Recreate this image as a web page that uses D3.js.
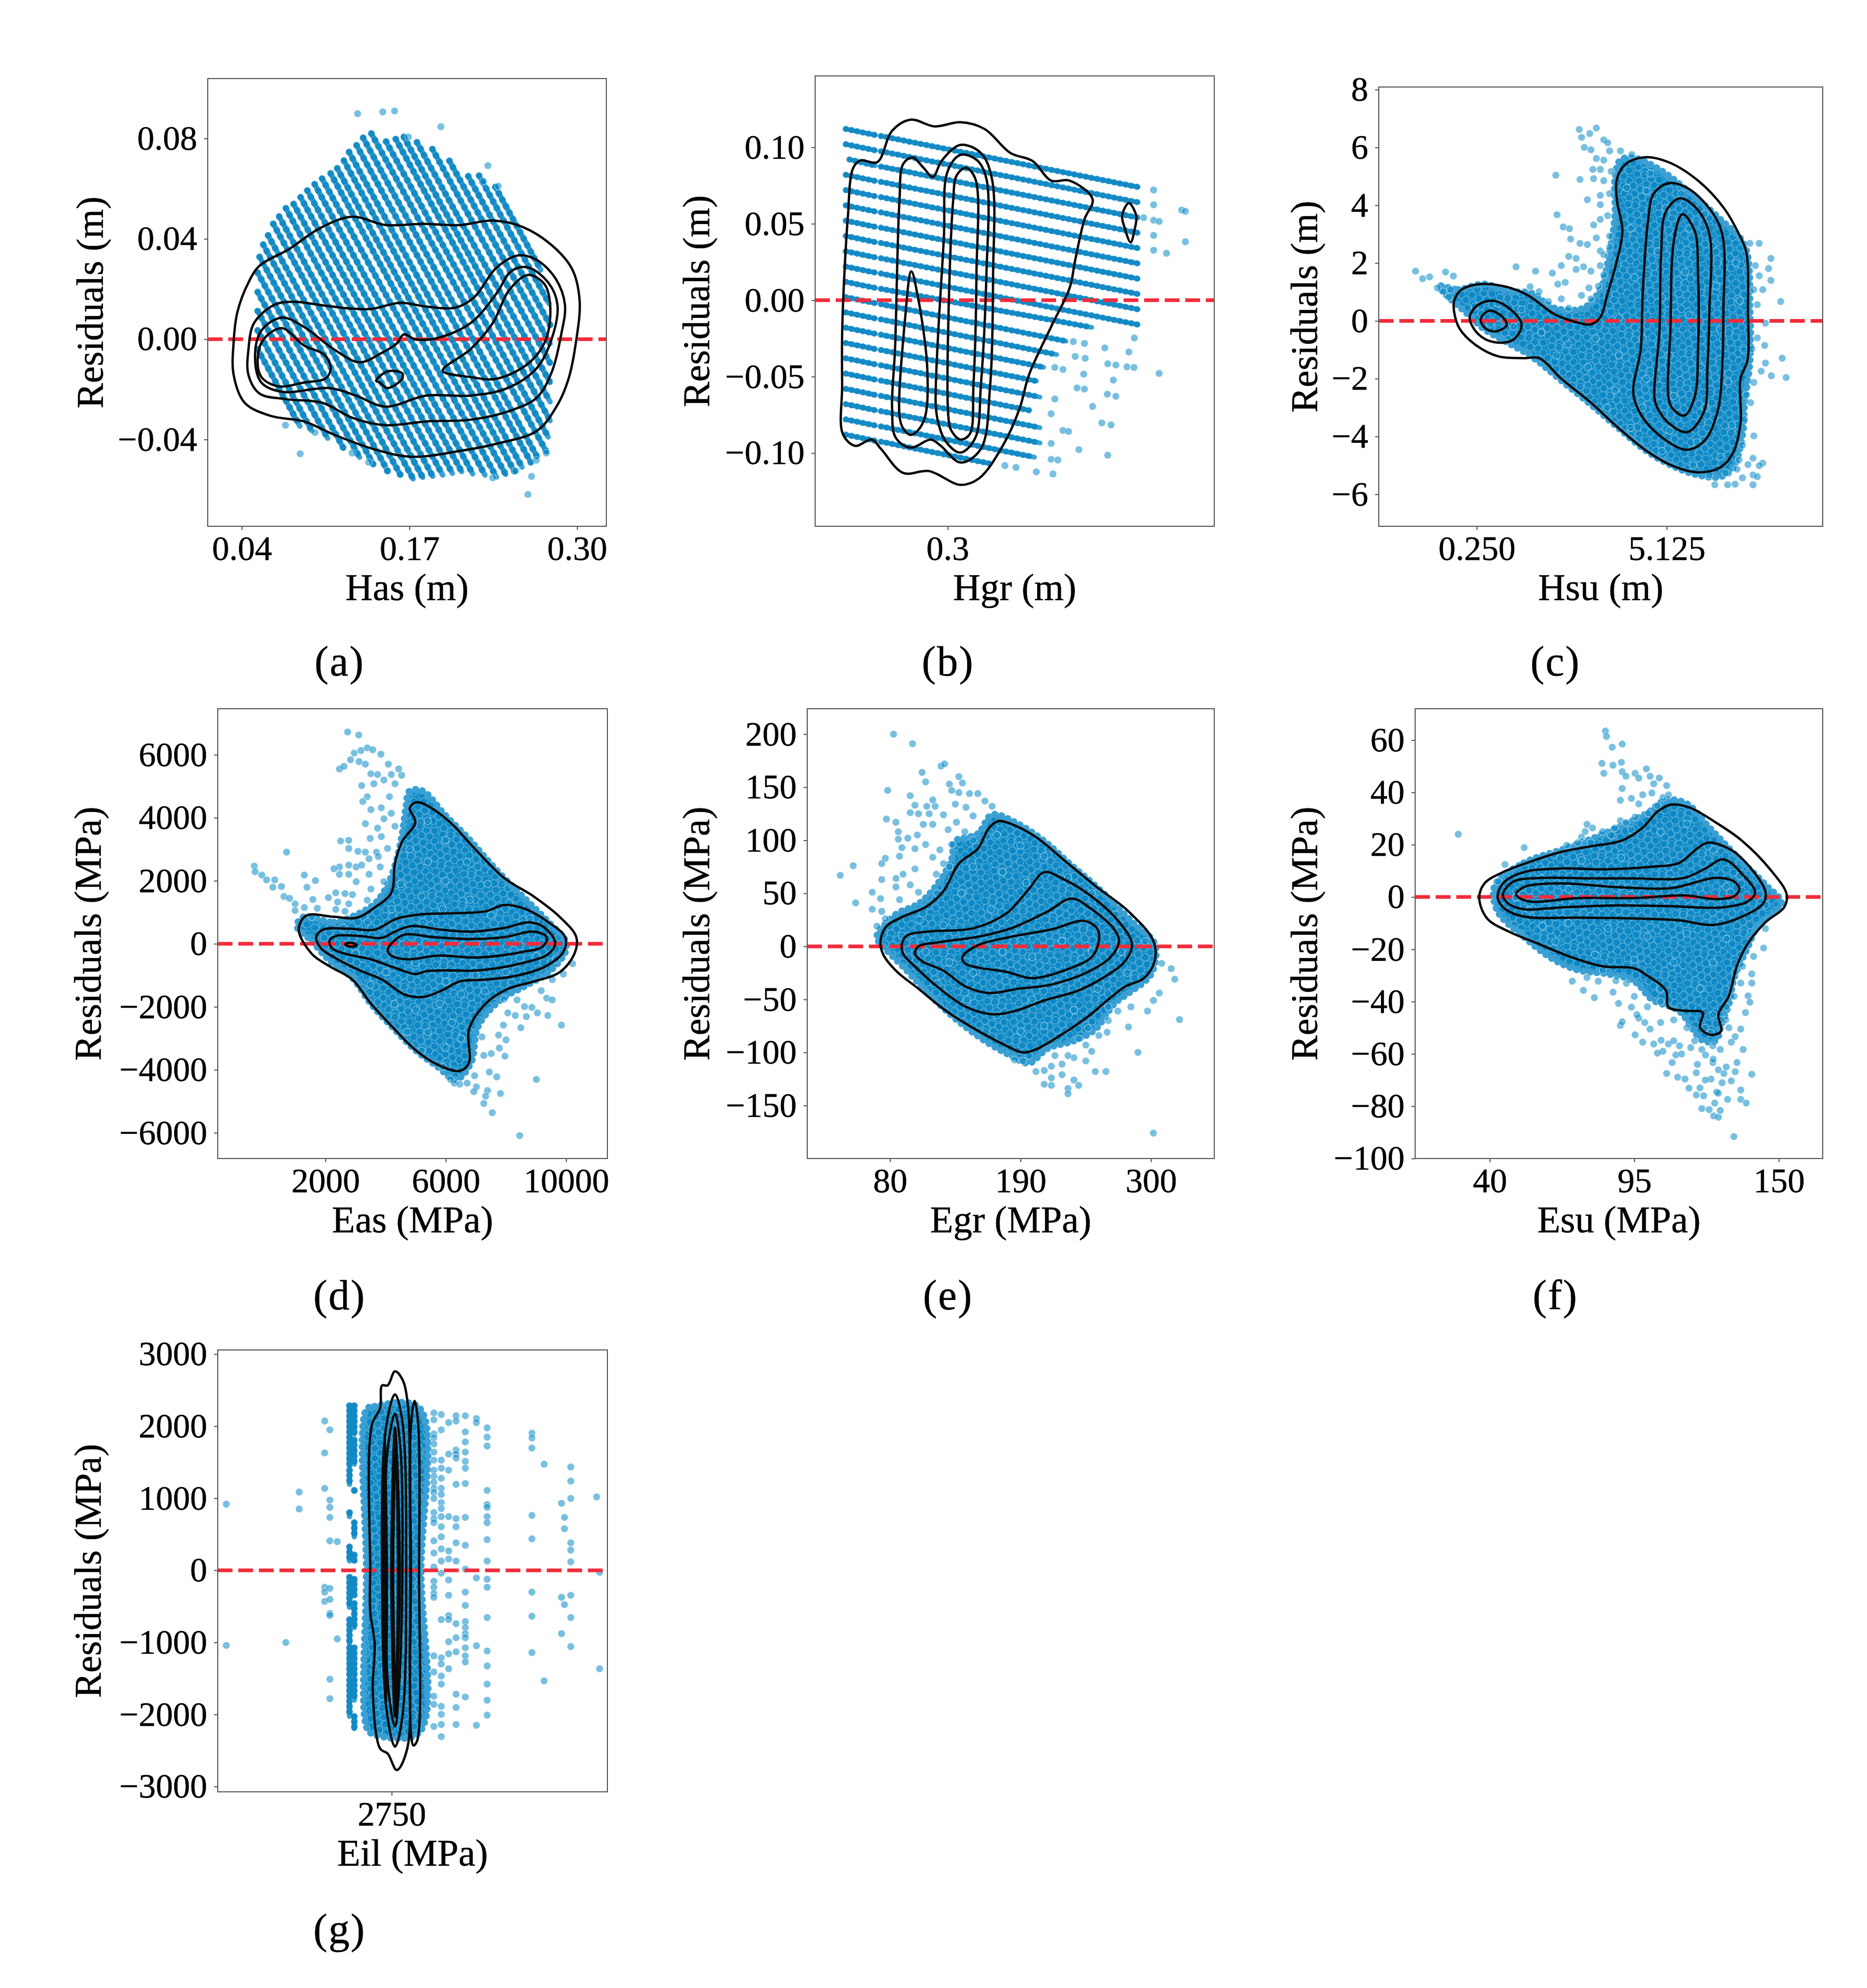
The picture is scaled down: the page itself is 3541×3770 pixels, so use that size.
<!DOCTYPE html>
<html>
<head>
<meta charset="utf-8">
<script src="https://cdn.jsdelivr.net/npm/d3@7"></script>
<style>
  html, body { margin: 0; background: #fff; }
  text { font-family: "Liberation Serif", serif; fill: #000; stroke: #000; stroke-width: 0.5px; }
</style>
</head>
<body>
<div id="chart"></div>
<script>
// (a) Has: lattice stripes [x0,y0,x1,y1], stray points, density contours
const hasStripes = [
  [.0523,-.0040,.0851,-.0347],[.0523,.0035,.0942,-.0365],[.0523,.0112,.1066,-.0395],[.0523,.0188,.1189,-.0435],
  [.0523,.0265,.1313,-.0471],[.0538,.0328,.1419,-.0498],[.0566,.0377,.1534,-.0528],[.0604,.0414,.1631,-.0542],
  [.0644,.0460,.1729,-.0557],[.0690,.0489,.1803,-.0551],[.0742,.0522,.1881,-.0547],[.0802,.0539,.1958,-.0542],
  [.0856,.0566,.2033,-.0535],[.0908,.0593,.2105,-.0528],[.0965,.0618,.2191,-.0537],[.1023,.0640,.2286,-.0542],
  [.1089,.0661,.2375,-.0550],[.1140,.0681,.2446,-.0539],[.1192,.0712,.2515,-.0528],[.1232,.0746,.2573,-.0510],
  [.1290,.0773,.2641,-.0491],[.1341,.0803,.2690,-.0469],[.1405,.0820,.2762,-.0449],[.1519,.0788,.2776,-.0390],
  [.1594,.0798,.2791,-.0325],[.1657,.0806,.2791,-.0250],[.1758,.0785,.2791,-.0173],[.1878,.0758,.2791,-.0096],
  [.2010,.0711,.2791,-.0019],[.2156,.0650,.2791,.0056],[.2240,.0652,.2782,.0142],[.2366,.0607,.2719,.0276]
]
const hasPoints = [
  [.1298,.0899],[.1493,.0906],[.1585,.0910],[.1944,.0847],[.1692,.0806],[.2309,.0692],[.2274,.0630],[.2389,.0610],
  [.0853,-.0457],[.1255,-.0454],[.1384,-.0491],[.1528,-.0525],[.2346,-.0553],[.2524,-.0525],[.2647,-.0547],
  [.2619,-.0619],[.2684,-.0483],[.2762,-.0454],[.0968,-.0372],[.0739,-.0343]
]
const hasContours = [
  [[.0337,-.0010],[.0366,.0108],[.0452,.0226],[.0538,.0293],[.0767,.0359],[.0997,.0440],[.1255,.0488],[.1514,.0455],[.1801,.0460],[.2088,.0455],[.2346,.0473],[.2575,.0448],[.2805,.0374],[.2963,.0278],[.3020,.0152],[.2992,-.0010],[.2934,-.0158],[.2848,-.0262],[.2690,-.0365],[.2375,-.0417],[.2088,-.0446],[.1714,-.0469],[.1427,-.0439],[.1112,-.0380],[.0882,-.0328],[.0624,-.0306],[.0423,-.0254],[.0337,-.0143]],
  [[.0452,-.0040],[.0495,.0064],[.0653,.0137],[.0796,.0149],[.0997,.0137],[.1227,.0123],[.1399,.0120],[.1628,.0145],[.1829,.0130],[.2059,.0126],[.2202,.0167],[.2375,.0285],[.2547,.0334],[.2690,.0315],[.2834,.0241],[.2906,.0137],[.2877,.0019],[.2805,-.0129],[.2690,-.0232],[.2489,-.0284],[.2174,-.0321],[.1829,-.0328],[.1514,-.0343],[.1255,-.0313],[.1026,-.0254],[.0739,-.0239],[.0538,-.0217],[.0452,-.0143]],
  [[.0503,-.0069],[.0552,.0034],[.0710,.0086],[.0882,.0049],[.1112,-.0040],[.1313,-.0092],[.1485,-.0055],[.1600,-.0018],[.1657,.0019],[.1743,0],[.1915,.0004],[.2174,.0064],[.2375,.0182],[.2489,.0271],[.2619,.0286],[.2776,.0226],[.2848,.0137],[.2805,.0004],[.2690,-.0114],[.2461,-.0195],[.2174,-.0225],[.1829,-.0225],[.1514,-.0269],[.1284,-.0225],[.1083,-.0195],[.0710,-.0210],[.0552,-.0173]],
  [[.0523,-.0084],[.0566,-.0003],[.0710,.0044],[.0882,-.0025],[.1040,-.0062],[.1089,-.0114],[.1054,-.0155],[.0882,-.0173],[.0681,-.0188],[.0552,-.0151]],
  [[.1958,-.0126],[.2174,-.0040],[.2346,.0064],[.2475,.0197],[.2619,.0256],[.2748,.0219],[.2791,.0137],[.2762,.0004],[.2633,-.0092],[.2375,-.0158],[.2174,-.0151]],
  [[.1442,-.0166],[.1528,-.0129],[.1643,-.0136],[.1643,-.0158],[.1528,-.0195],[.1471,-.0173]]
]

// (b) Hgr: rows of the lattice, split by the empty column
const hgrRowsLeft = [
  [.025,.112,.105,.108],[.025,.102,.105,.098],[.035,.092,.105,.088],[.025,.082,.105,.078],[.025,.072,.105,.068],
  [.025,.062,.105,.058],[.025,.052,.105,.048],[.025,.042,.105,.038],[.025,.032,.105,.028],[.025,.022,.105,.018],
  [.025,.012,.105,.008],[.025,.002,.105,-.002],[.025,-.008,.105,-.012],[.025,-.018,.105,-.022],[.025,-.028,.105,-.032],
  [.025,-.038,.105,-.042],[.025,-.048,.105,-.052],[.025,-.058,.105,-.062],[.025,-.068,.105,-.072],[.025,-.078,.105,-.082],
  [.025,-.088,.105,-.092]
]
const hgrRowsRight = [
  [.12,.1074,.815,.074],[.12,.0974,.815,.064],[.12,.0874,.815,.054],[.12,.0774,.815,.044],[.12,.0674,.815,.034],
  [.12,.0574,.815,.024],[.12,.0474,.815,.014],[.12,.0374,.815,.004],[.12,.0274,.815,-.006],[.12,.0174,.815,-.016],
  [.12,.0074,.69,-.0178],[.12,-.0026,.62,-.0268],[.12,-.0126,.595,-.0356],[.12,-.0226,.56,-.0439],[.12,-.0326,.54,-.0529],
  [.12,-.0426,.55,-.0634],[.12,-.0526,.52,-.072],[.12,-.0626,.55,-.0834],[.12,-.0726,.55,-.0934],[.12,-.0826,.535,-.1027],
  [.12,-.0926,.415,-.1069]
]
const hgrPoints = [
  [.857,.0721],[.857,.0624],[.857,.0523],[.872,.0515],[.857,.0424],[.857,.0327],[.892,.0307],[.933,.059],[.943,.0581],[.943,.0382],
  [.83,.054],[.805,-.0247],[.79,-.0339],[.804,-.044],[.785,-.0436],[.872,-.0479],[.725,-.0312],[.733,-.0416],[.755,-.0424],[.748,-.0523],
  [.732,-.0615],[.755,-.0629],[.692,-.0695],[.717,-.0803],[.742,-.0816],[.655,-.0978],[.733,-.1014],[.612,-.0852],[.627,-.0859],[.645,-.0368],
  [.672,-.038],[.668,-.0484],[.65,-.0574],[.67,-.0581],[.67,-.0283],[.64,-.0271],[.59,-.044],[.612,-.0453],[.59,-.0646],[.58,-.0743],
  [.58,-.0937],[.58,-.1041],[.598,-.1045],[.585,-.1137],[.54,-.1123],[.485,-.1094],[.455,-.1082]
]
const hgrContours = [
  [[.015,-.0223],[.02,.0116],[.03,.0528],[.045,.0866],[.065,.0915],[.11,.0903],[.15,.1108],[.2,.1181],[.265,.1137],[.335,.1164],[.4,.112],[.47,.0963],[.53,.091],[.58,.0782],[.63,.0782],[.692,.0661],[.67,.0528],[.645,.0261],[.63,.008],[.58,-.0174],[.52,-.0489],[.495,-.0707],[.45,-.0949],[.385,-.1166],[.335,-.1208],[.25,-.1118],[.18,-.113],[.12,-.0973],[.095,-.0912],[.05,-.0953],[.017,-.0876],[.015,-.0561]],
  [[.158,-.0319],[.17,.0649],[.18,.0891],[.205,.0934],[.235,.0866],[.26,.0806],[.285,.0915],[.335,.1016],[.39,.0963],[.42,.0794],[.423,.0164],[.415,-.0561],[.39,-.0973],[.335,-.1062],[.28,-.0949],[.255,-.0912],[.2,-.0965],[.16,-.09],[.15,-.0707]],
  [[.268,-.0682],[.29,.0407],[.3,.0842],[.335,.0951],[.38,.0915],[.405,.0794],[.405,.0164],[.39,-.0561],[.375,-.09],[.335,-.0997],[.295,-.0924],[.275,-.0803]],
  [[.302,-.0755],[.315,.0649],[.325,.0818],[.35,.0866],[.375,.0794],[.378,.0164],[.37,-.0561],[.36,-.0876],[.335,-.0912],[.31,-.0852]],
  [[.17,-.0755],[.185,-.0126],[.202,.0189],[.22,.0019],[.245,-.044],[.24,-.0755],[.22,-.0852],[.2,-.0881],[.18,-.084]],
  [[.772,.0552],[.79,.0636],[.81,.0552],[.805,.0455],[.795,.0378],[.778,.0479]]
]

// (c) Hsu
const hsuCloud = [
  [-.71,1.2],[-.23,1.08],[.43,1.27],[1.09,1.01],[1.66,.95],[2.23,.44],[2.99,.44],[3.42,1.08],[3.66,2.36],[3.8,3.64],[3.8,4.92],[3.94,5.56],[4.32,5.62],[5.08,5.11],[5.84,4.28],[6.5,3.51],[7.12,2.61],[7.26,.31],[7.26,-1.36],[7.12,-2.89],[7.07,-3.92],[6.83,-5.07],[6.5,-5.39],[5.93,-5.33],[5.27,-5.01],[4.6,-4.49],[3.85,-3.66],[3.18,-2.89],[2.42,-2.06],[1.66,-1.23],[1,-.72],[.43,-.27],[-.04,.31],[-.42,.76]
]
const hsuPoints = [
  [2.88,6.62],[2.94,6.35],[3.15,6.48],[3.32,6.67],[3.51,6.26],[3.61,6.16],[3.01,6],[3.18,5.92],[3.32,5.62],[3.51,5.56],[3.42,5.24],[3.23,5.24],[3.66,5.88],[3.94,5.88],[4.23,5.75],[2.28,5.04],[2.9,4.89],[3.25,4.92],[3.51,4.85],[3.7,5.17],[3.09,4.19],[3.42,4.34],[3.66,4.4],[2.31,3.67],[2.47,3.25],[2.63,3.19],[2.66,2.83],[3.25,3.32],[3.42,3.51],[3.61,3.64],[3.42,4.02],[2.9,2.68],[3.09,2.64],[3.32,2.87],[3.66,2.93],[3.42,2.42],[3.66,2.55],[2.61,2.23],[2.8,2.16],[2.42,1.91],[2.99,1.87],[3.18,1.72],[3.51,2.29],[3.42,1.91],[1.76,1.72],[2.19,1.65],[2.52,1.33],[2.33,1.27],[2.8,1.78],[3.13,1.14],[3.37,1.2],[3.51,1.59],[2.94,.88],[1.62,1.18],[1.85,1.01],[2.09,.67],[2.42,.76],[2.61,.44],[3.18,.76],[1.26,1.87],[-1.32,1.72],[-1.14,1.46],[-.96,1.52],[-.55,1.69],[-.35,1.55],[-.76,1.14],[-.61,1.01],[-.42,1.08],[-.47,.82],
  [7.26,2.68],[7.5,2.68],[7.4,1.91],[7.8,2.16],[7.74,1.81],[7.5,1.56],[7.8,1.4],[7.36,1.08],[7.59,1.08],[8.05,.67],[7.45,.56],[7.66,-.08],[7.45,-.59],[7.64,-.85],[7.31,-.97],[7.66,-1.46],[8.09,-1.29],[7.55,-1.74],[7.81,-1.9],[8.19,-1.96],[7.36,-2.13],[7.17,-2.57],[7.28,-2.83],[7.12,-3.41],[7.36,-3.98],[7.07,-4.3],[7.59,-4.92],[7.34,-4.75],[7.21,-4.97],[7.5,-5.01],[7.34,-5.33],[7.45,-5.39],[7.34,-5.67],[7.07,-5.43],[6.88,-5.65],[6.69,-5.67],[6.36,-5.67],[6.64,-5.26],[6.98,-4.81],[6.93,-5.13],[6.22,-5.33],
  [4.6,4.5],[5.1,3.9],[5.7,3.2],[6.3,2.6],[6.9,2],[4.2,3.2],[4.9,2.4],[5.6,1.7],[6.4,1.2],[7,.7],[4.3,1.5],[5,.8],[5.7,.2],[6.5,-.3],[7.1,-1],[3.9,.1],[4.5,-.6],[5.2,-1.2],[6,-1.6],[6.7,-2.1],[3.3,-.6],[3.9,-1.2],[4.6,-2],[5.3,-2.6],[6.1,-3],[6.8,-3.6],[2.6,-.8],[3.1,-1.6],[3.8,-2.4],[4.5,-3],[5.2,-3.8],[5.9,-4.2],[6.5,-4.7],[1.9,-.4],[2.3,-1.2],[1.2,-.2],[.6,-.1],[.2,.5],[.8,.6],[1.4,.4],[4.1,4.6],[4.7,5.1],[5.5,4.4],[6.1,3.7],[3.6,-3],[4.2,-3.7],[5,-4.5],[5.8,-5]
]
const hsuContours = [
  [[-.33,.69],[-.14,1.08],[.34,1.27],[1,1.18],[1.57,.88],[2.23,.24],[2.71,-.01],[3.18,-.12],[3.42,.12],[3.61,.95],[3.8,1.84],[3.99,3.12],[3.85,4.15],[3.85,4.92],[4.08,5.43],[4.56,5.66],[5.17,5.49],[5.93,4.85],[6.6,3.89],[6.98,3],[7.17,2.36],[7.21,.31],[7.2,-1.36],[7.02,-2],[7.02,-3.53],[6.83,-4.56],[6.5,-5.07],[5.93,-5.24],[5.27,-5.01],[4.6,-4.49],[3.85,-3.66],[3.18,-2.83],[2.42,-2],[1.85,-1.29],[1.47,-1.29],[.81,-1.23],[.24,-.85],[-.19,-.27],[-.33,.31]],
  [[4.27,-2.51],[4.46,-.97],[4.51,.95],[4.65,3.51],[4.79,4.4],[5.17,4.76],[5.65,4.6],[6.22,3.89],[6.55,3],[6.58,.31],[6.55,-1.61],[6.45,-3.02],[6.12,-4.11],[5.65,-4.46],[5.08,-4.11],[4.51,-3.34]],
  [[4.81,-2.64],[4.94,-.33],[4.98,2.23],[5.1,3.76],[5.46,4.24],[5.89,3.89],[6.22,3],[6.22,.31],[6.17,-1.61],[6.08,-3.15],[5.65,-3.85],[5.17,-3.53],[4.89,-3.02]],
  [[5.17,-2.64],[5.22,-.33],[5.32,2.87],[5.53,3.69],[5.84,3.12],[5.93,1.59],[5.93,-.97],[5.84,-2.64],[5.57,-3.28],[5.27,-3.02]],
  [[.07,.12],[.29,.56],[.71,.69],[1.19,.31],[1.4,-.14],[1.19,-.65],[.71,-.74],[.29,-.46]],
  [[.35,.05],[.57,.35],[.9,.15],[1.02,-.14],[.76,-.36],[.48,-.27]]
]

// (d) Eas
const easCloud = [
  [1299,856],[2283,680],[3021,915],[3636,1267],[4066,1853],[4374,2674],[4558,3495],[4681,4317],[4804,4844],[5235,4844],[5973,4082],[6711,3378],[7695,2323],[8556,1501],[9417,680],[9970,94],[9970,-258],[9417,-903],[8679,-1314],[7818,-1783],[7080,-2604],[6834,-3777],[6342,-4305],[5727,-3894],[4989,-3367],[4251,-2663],[3513,-1900],[2898,-1079],[2160,-551],[1545,94],[1053,563]
]
const easPoints = [
  [2738,6721],[3107,6627],[2467,5548],[2615,5630],[2836,5842],[2959,6053],[3119,5783],[3181,6135],[3390,6217],[3574,6158],[3845,6017],[3328,5701],[3513,5396],[3734,5372],[4091,5701],[4435,5548],[4534,5349],[3205,5020],[3611,5079],[3943,5196],[4189,5372],[3390,4668],[3242,4516],[3513,4258],[3857,4317],[4128,4668],[4312,5079],[3943,3965],[3328,3812],[4189,4141],[3734,3671],[2504,3261],[2775,3284],[2775,3026],[3488,3343],[3857,3402],[4312,3730],[3082,2932],[3328,2909],[3697,2909],[4066,3026],[3451,2698],[3759,2768],[2467,2440],[2775,2498],[3021,2440],[3205,2498],[2283,2381],[3451,2205],[2775,2205],[2467,2205],[3021,1971],[3820,2440],[3943,1971],[2652,1595],[2898,1560],[2344,1619],[2098,1466],[3513,1736],[2406,1325],[2775,1267],[3390,1384],[2344,1091],[2652,1032],[709,2909],[-362,2463],[-337,2287],[-116,2182],[44,2029],[315,2029],[253,1795],[536,1818],[622,1501],[807,1443],[991,1267],[1299,2182],[1385,1795],[1668,2006],[1582,1408],[1729,1126],[1299,1150],[991,1056],[1545,856],
  [9663,-493],[9909,-962],[10216,-633],[9540,-1138],[9171,-1490],[9355,-1724],[9540,-1783],[9392,-2276],[9847,-2581],[8617,-1994],[8863,-2018],[8679,-2311],[9048,-2194],[7941,-1760],[8371,-1783],[8064,-2194],[8310,-2276],[8494,-2663],[7916,-2581],[7756,-2897],[8002,-3050],[7966,-3566],[7264,-3542],[7510,-3484],[7781,-3308],[7203,-2956],[7449,-4070],[7695,-4223],[7818,-4751],[7387,-4657],[7326,-4833],[7264,-5067],[7547,-5361],[7018,-4540],[6932,-4692],[6957,-4188],[6711,-4422],[6280,-4422],[6465,-4457],[6157,-4305],[9011,-4305],[8457,-6088],
  [5400,3900],[6000,3300],[6700,2600],[7400,1900],[8100,1300],[8800,800],[4800,3000],[5400,2600],[6000,2000],[6800,1400],[7500,900],[4500,1900],[5200,1500],[5900,1100],[4200,1100],[3400,700],[2600,500],[3000,-300],[4000,-900],[5000,-600],[6000,-1200],[7000,-1000],[8000,-900],[9000,-400],[3500,-1300],[4300,-1900],[5000,-2100],[5800,-1900],[6500,-1600],[7300,-1500],[4700,-2800],[5400,-2800],[6200,-2500],[5200,-3400],[6000,-3300],[6500,-3000],[5900,-3900]
]
const easContours = [
  [[1114,446],[1360,891],[2283,856],[3021,821],[3636,1150],[4189,1619],[4312,2557],[4558,3261],[4989,3847],[4804,4317],[5050,4493],[5604,4258],[6219,3789],[6957,3026],[7941,2088],[8925,1501],[9786,856],[10339,211],[10278,-317],[9786,-903],[8925,-1196],[8064,-1431],[7326,-1900],[6772,-2721],[6772,-3777],[6465,-4035],[5727,-3836],[4989,-3367],[4251,-2663],[3513,-1900],[2898,-1138],[2160,-727],[1545,-317]],
  [[1692,211],[1914,446],[2775,481],[3636,446],[4374,798],[5235,938],[6465,974],[7326,1032],[7941,1232],[8679,1091],[9417,680],[9970,211],[9909,-258],[9294,-727],[8310,-1021],[7326,-1138],[6465,-1196],[5850,-1490],[5235,-1689],[4620,-1607],[3882,-1138],[3144,-845],[2406,-493],[1852,-141]],
  [[2135,94],[2344,246],[3144,246],[3882,188],[4312,387],[4866,563],[5850,446],[6834,387],[7941,504],[8802,680],[9294,504],[9638,35],[9417,-317],[8556,-610],[7080,-845],[5973,-845],[5358,-868],[4989,-962],[4374,-786],[3513,-493],[2652,-317],[2221,-141]],
  [[4066,-199],[4558,270],[5604,211],[6711,152],[7941,211],[8925,387],[9355,211],[9232,-82],[8556,-258],[7080,-434],[5727,-375],[4743,-493],[4189,-375]],
  [[2652,-23],[2836,35],[3046,-47],[2836,-94]]
]

// (e) Egr
const egrCloud = [
  [69,9],[85,30],[104,40],[119,57],[132,82],[135,99],[154,106],[166,124],[185,117],[210,99],[231,78],[256,54],[284,23],[303,2],[300,-26],[281,-44],[269,-54],[253,-78],[235,-89],[213,-96],[197,-110],[182,-103],[160,-89],[135,-68],[113,-45],[91,-19],[76,-2]
]
const egrPoints = [
  [83,200],[99,191],[107,164],[110,155],[123,170],[126,172],[78,147],[130,153],[138,160],[141,154],[132,147],[138,145],[147,144],[154,144],[160,137],[166,132],[97,142],[101,133],[111,132],[118,132],[116,138],[97,126],[104,125],[113,125],[125,124],[135,134],[144,131],[150,123],[77,120],[85,117],[87,108],[87,101],[95,102],[103,105],[108,115],[116,115],[129,110],[136,117],[143,108],[88,85],[90,93],[101,92],[110,96],[122,91],[132,96],[76,83],[73,78],[38,67],[49,76],[51,41],[73,63],[85,64],[91,68],[101,73],[116,84],[125,78],[65,51],[72,45],[65,35],[73,33],[85,56],[97,58],[104,51],[119,68],[88,44],[69,19],[76,26],
  [324,-69],[320,-31],[317,-21],[309,-16],[307,-44],[302,-51],[297,-61],[289,-100],[281,-76],[283,-57],[272,-61],[264,-57],[264,-70],[256,-84],[263,-81],[247,-77],[239,-87],[245,-93],[250,-99],[235,-105],[245,-108],[230,-103],[262,-118],[253,-118],[225,-111],[219,-103],[225,-121],[216,-113],[210,-117],[203,-118],[216,-124],[210,-130],[216,-131],[235,-126],[239,-131],[230,-134],[230,-139],[302,-176],[185,-107],[192,-108],[197,-103],
  [150,100],[170,105],[190,95],[210,85],[230,65],[250,50],[270,30],[130,75],[150,75],[175,70],[195,60],[120,50],[140,50],[165,35],[105,25],[125,20],[90,10],[110,-5],[130,-15],[150,-25],[175,-5],[200,-10],[225,5],[250,-5],[275,-5],[295,5],[120,-35],[145,-50],[170,-65],[190,-80],[210,-75],[235,-60],[255,-40],[280,-25],[200,-50],[220,-35]
]
const egrContours = [
  [[72,5],[77,19],[91,28],[110,37],[125,52],[138,78],[154,92],[163,111],[171,118],[183,115],[203,103],[228,80],[253,57],[281,33],[302,5],[303,-14],[294,-30],[278,-38],[263,-51],[247,-66],[222,-85],[203,-97],[192,-100],[175,-92],[150,-77],[125,-59],[104,-40],[85,-23],[74,-7]],
  [[90,2],[94,10],[113,14],[150,17],[178,31],[197,54],[210,70],[225,64],[250,47],[273,23],[284,2],[278,-14],[259,-30],[238,-42],[210,-51],[185,-61],[166,-64],[144,-57],[122,-40],[101,-19],[91,-7]],
  [[101,-7],[104,0],[122,4],[154,9],[182,17],[213,33],[233,45],[250,35],[269,16],[273,5],[266,-10],[247,-24],[216,-36],[188,-40],[163,-44],[144,-38],[125,-23],[107,-14]],
  [[141,-10],[154,1],[182,9],[216,16],[244,24],[255,16],[256,5],[250,-10],[231,-21],[200,-30],[178,-24],[154,-20],[143,-16]]
]

// (f) Esu
const esuCloud = [
  [42,4.5],[53,13],[67,17.9],[77,21.5],[90,27.1],[100,32.1],[107,37],[115,35.6],[123,27.1],[135,14.4],[145,4.5],[151,-2.5],[142,-11],[138,-19.5],[133,-30.8],[131,-40.7],[128,-49.1],[126,-54.8],[121,-54.8],[112,-43.5],[102,-39.3],[95,-32.2],[85,-29.4],[74,-28],[64,-23.7],[53,-15.2],[43,-5.4]
]
const esuPoints = [
  [28,24],[84,63.5],[84.4,61.4],[86.6,57.3],[90.4,58.5],[82.7,51.1],[83.4,47.3],[86.9,50.4],[90.1,51.5],[90.4,47.9],[95.3,47.3],[99.6,49],[104.5,45.5],[107.3,42.6],[96.7,45.5],[91.8,46.2],[90.4,41.5],[101,46.2],[102.4,43.3],[93.9,37.7],[98.2,39.1],[101.7,39.8],[105.9,38.1],[108,39.1],[89.7,37],[96.7,35.6],[100.3,32.1],[103.8,34.9],[95.3,30.6],[89.7,29.2],[91.8,28.5],[87.6,26.4],[93.9,25.7],[82.9,25],[86.2,23.6],[77,27.8],[79.1,26.4],[76.3,25],[74.9,22.9],[53.1,18.9],[45.8,12.4],[69.3,19.8],[73.5,20.8],[78.4,20.8],[64.4,16.1],[43.2,5.9],
  [144.2,-19.5],[140.4,-22.7],[144.9,-12.1],[136.2,-26.5],[139.7,-29.4],[133.4,-28.7],[135.5,-32.9],[139.7,-32.9],[138.3,-37.8],[139,-40.2],[137.3,-44.2],[135.5,-50.5],[136.4,-58.3],[133.4,-53.4],[131.9,-55.5],[129.8,-47],[127.7,-58.3],[124.9,-56.9],[120.7,-58.3],[116.5,-57.6],[112.2,-56.9],[108,-56.2],[105.2,-54.8],[102.4,-56.2],[98.2,-55.5],[95.3,-52.7],[89.7,-49.1],[90.4,-47.7],[79.8,-38.5],[75.6,-35.7],[71.4,-32.2],[77,-30.8],[81.3,-32.2],[86.9,-36.4],[89,-40.7],[93.9,-42.1],[96.7,-46.3],[101,-50.5],[105.9,-59],[110.8,-60.4],[103.8,-59.7],[109.4,-63.3],[107.3,-67.5],[111.5,-68.9],[115.8,-73.1],[118.6,-67.2],[122.1,-60.4],[124.9,-63.3],[127,-66.1],[124.2,-69.6],[129.1,-67.5],[133.4,-66.8],[134.1,-63.3],[139.7,-67.8],[135.5,-73.8],[131.9,-70.3],[128.4,-71],[126.3,-74.6],[130.5,-77.4],[135.5,-77.4],[118.6,-75.7],[121.4,-76],[125.6,-78.8],[120.7,-80.9],[123.5,-81.3],[125.2,-83.7],[127,-84.2],[127.7,-81.6],[132.9,-91.6],[114.3,-69.6],[137.6,-78.8],
  [105,-40],[110,-47],[115,-50],[118,-55],[122,-50],[125,-62],[130,-42],[100,-42],[95,-38],[92,-33],[88,-32],[83,-28],[110,-55],[105,-48],[113,-60],[119,-64],[122,-70],[127,-75],[130,-65],[120,-73],[99,-48],[96,-45],[133,-38],[131,-50],[128,-47],[124,-52],
  [60,10],[75,14],[90,15],[105,25],[115,28],[125,18],[135,8],[145,-3],[55,-5],[70,-10],[85,-12],[100,-15],[115,-14],[130,-16],[65,-17],[80,-22],[95,-24],[110,-25],[125,-25],[105,-35],[120,-35],[125,-45],[50,0],[70,3],[90,4],[110,6],[130,4],[60,-11]
]
const esuContours = [
  [[36,-.4],[38,5.2],[45,9.5],[56,13.7],[67,17.2],[78,19.3],[90,21.5],[98,26.4],[104,32.8],[109,35.3],[116,34.2],[126,28.5],[136,21.5],[147,10.2],[153,1],[152,-4],[145,-9.6],[138,-18.1],[134,-26.5],[131,-37.8],[127,-44.9],[128,-51.3],[124,-52.7],[120,-49.8],[121,-44.2],[114,-43.5],[108,-42.1],[107,-35.7],[100,-30.1],[95,-27.3],[83,-26.5],[71,-23],[59,-18.1],[47,-13.1],[39,-8.2]],
  [[43,-.4],[45,5.2],[53,9.5],[67,10.9],[84,10.6],[102,11.6],[112,13],[119,18.6],[123,20.8],[132,17.9],[140,10.2],[145,1.7],[144,-2.5],[136,-7.5],[125,-10.7],[112,-8.9],[95,-8.2],[74,-7.9],[53,-7.5],[46,-4.7]],
  [[45,1],[49,5.9],[60,7.3],[77,7.1],[95,7.1],[114,7.3],[122,10.9],[129,14.4],[136,8.8],[141,1.7],[138,-1.8],[128,-4],[109,-3.5],[88,-3.2],[67,-4],[53,-4.7],[47,-2.5]],
  [[50,1],[53,3.8],[67,5.2],[88,3.8],[109,3.4],[126,7.3],[133,5.9],[135,3.1],[133,.3],[126,-.8],[114,.6],[95,-.4],[74,-.4],[56,-1.8],[52,-.8]]
]

// (g) Eil: vertical columns of points [x, y0, y1], single points by column
const eilCloud = [[2410,2229],[2520,2274],[3120,2257],[3145,-11],[3120,-2251],[2520,-2279],[2420,-2195],[2410,-11]]
const eilStripes = [
  [2180,2285,1445],[2180,1389,1193],[2180,801,745],[2180,325,129],[2180,-95,-515],[2180,-683,-1019],[2180,-1075,-1467],[2180,-1523,-2027],
  [2245,2285,1893],[2245,1809,1473],[2245,1109,1098],[2245,661,465],[2245,213,129],[2245,-123,-347],[2245,-459,-795],[2245,-1075,-1467],[2245,-1523,-1803],[2245,-2027,-2195]
]
const eilColumns = [
  [515,[918,-1042]],[1320,[-1002]],[1500,[1086,851]],[1845,[2072,1630,1137,-235,-302,-431]],
  [1915,[1949,974,874,734,409,-252,-403,-599,-627,-1512,-1781]],[2015,[398,-952]],
  [3320,[2184,2089,1893,1837,1753,1641,1529,1389,1305,1221,1137,1081,997,801,717,661,409,241,45,-151,-235,-319,-375,-1187,-1411,-1747,-1859,-2167]],
  [3420,[2162,1949,1529,1417,1277,1137,1053,941,857,745,605,465,297,129,-39,-683,-1215,-1299,-1467,-1579,-1887,-1999,-2139,-2307]],
  [3520,[2050,1613,1389,745,269,157,-134,-347,-627,-683,-991,-1159,-1366]],
  [3620,[2145,2072,1669,1613,1557,1193,717,605,381,129,-739,-935,-1131,-1719,-1904,-2139]],
  [3745,[2145,1921,1781,1641,1512,1417,1204,734,347,17,-302,-487,-711,-795,-879,-935,-1075,-1187,-1271,-1758]],
  [3895,[2106,2050,-106,-1047,-2150]],
  [4040,[1977,1848,1725,1109,913,874,745,661,426,129,-123,-235,-655,-1120,-1327,-1579,-1803,-2010]],
  [4645,[1904,1837,1697,762,437,-302,-638,-1142]],[4810,[1473,-1534]],[5045,[930,-375,-879]],[5085,[734,577,-476]],
  [5170,[1434,1238,997,381,280,118,-347,-655,-1058]],[5520,[1019]],[5560,[-28,-1366]]
]
const eilPoints = eilColumns.flatMap(([x, ys]) => ys.map(y => [x, y]))
const eilContours = [
  [[2460,-11],[2480,2005],[2595,2257],[2620,2565],[2695,2565],[2795,2761],[2895,2649],[2970,2285],[2995,1109],[2995,-1131],[2960,-2475],[2820,-2772],[2695,-2542],[2595,-2475],[2495,-1691],[2520,-1019],[2460,-571]],
  [[3010,2005],[3060,2352],[3110,2005],[3120,-11],[3095,-2363],[3045,-2430],[3010,-2251],[3010,-11]],
  [[2620,-11],[2670,1949],[2795,2442],[2895,2061],[2945,-11],[2895,-2027],[2795,-2447],[2685,-1971]],
  [[2660,-11],[2695,1669],[2795,2173],[2870,1669],[2895,-11],[2845,-1691],[2795,-2167],[2710,-1691]],
  [[2635,-11],[2655,1809],[2685,-11],[2670,-1831]],
  [[2745,-11],[2795,1977],[2860,-11],[2795,-2027]],
  [[2770,-11],[2805,1725],[2835,-11],[2805,-1803]]
]

// tick values and labels
const residualTicksA = [0.08, 0.04, 0, -0.04]
const residualTicksB = [0.10, 0.05, 0, -0.05, -0.10]
const residualTicksC = [8, 6, 4, 2, 0, -2, -4, -6]
const residualTicksD = [6000, 4000, 2000, 0, -2000, -4000, -6000]
const residualTicksE = [200, 150, 100, 50, 0, -50, -100, -150]
const residualTicksF = [60, 40, 20, 0, -20, -40, -60, -80, -100]
const residualTicksG = [3000, 2000, 1000, 0, -1000, -2000, -3000]

const minus = s => s.replace('-', '\u2212')

const panels = [
  { caption: '(a)', capX: 644, capY: 1281, box: [394, 1150, 149, 998], labelX: 195,
    xDomain: [.0136, .3227], yDomain: [-.0746, .1039], xTicks: [.04, .17, .30], xFmt: d3.format('.2f'),
    yTicks: residualTicksA, yFmt: d3.format('.2f'), xLabel: 'Has (m)', yLabel: 'Residuals (m)',
    stripes: hasStripes, dot: 14, stripeWidth: 13, points: hasPoints, contours: hasContours },
  { caption: '(b)', capX: 1798, capY: 1281, box: [1546, 2303, 144, 998], labelX: 1345,
    xDomain: [-.058, 1.021], yDomain: [-.1479, .1467], xTicks: [.3], xFmt: d3.format('.1f'),
    yTicks: residualTicksB, yFmt: d3.format('.2f'), xLabel: 'Hgr (m)', yLabel: 'Residuals (m)',
    stripes: hgrRowsLeft.concat(hgrRowsRight), dot: 11, stripeWidth: 12, points: hgrPoints, contours: hgrContours },
  { caption: '(c)', capX: 2950, capY: 1281, box: [2615, 3457, 165, 998], labelX: 2498,
    xDomain: [-2.264, 9.129], yDomain: [-7.106, 8.09], xTicks: [.25, 5.125], xFmt: d3.format('.3f'),
    yTicks: residualTicksC, yFmt: d3.format('d'), xLabel: 'Hsu (m)', yLabel: 'Residuals (m)',
    cloud: hsuCloud, points: hsuPoints, contours: hsuContours },
  { caption: '(d)', capX: 644, capY: 2483, box: [413, 1152, 1344, 2197], labelX: 191,
    xDomain: [-1579, 11373], yDomain: [-6815, 7460], xTicks: [2000, 6000, 10000], xFmt: d3.format('d'),
    yTicks: residualTicksD, yFmt: d3.format('d'), xLabel: 'Eas (MPa)', yLabel: 'Residuals (MPa)',
    cloud: easCloud, points: easPoints, contours: easContours },
  { caption: '(e)', capX: 1798, capY: 2483, box: [1531, 2303, 1344, 2197], labelX: 1345,
    xDomain: [10.2, 353.3], yDomain: [-200, 224], xTicks: [80, 190, 300], xFmt: d3.format('d'),
    yTicks: residualTicksE, yFmt: d3.format('d'), xLabel: 'Egr (MPa)', yLabel: 'Residuals (MPa)',
    cloud: egrCloud, points: egrPoints, contours: egrContours },
  { caption: '(f)', capX: 2950, capY: 2483, box: [2684, 3457, 1344, 2197], labelX: 2498,
    xDomain: [11.6, 166.7], yDomain: [-100, 72], xTicks: [40, 95, 150], xFmt: d3.format('d'),
    yTicks: residualTicksF, yFmt: d3.format('d'), xLabel: 'Esu (MPa)', yLabel: 'Residuals (MPa)',
    cloud: esuCloud, points: esuPoints, contours: esuContours },
  { caption: '(g)', capX: 644, capY: 3685, box: [413, 1152, 2560, 3398], labelX: 191,
    xDomain: [400, 5665], yDomain: [-3074, 3058], xTicks: [2750], xFmt: d3.format('d'),
    yTicks: residualTicksG, yFmt: d3.format('d'), xLabel: 'Eil (MPa)', yLabel: 'Residuals (MPa)',
    stripes: eilStripes.map(([x, y0, y1]) => [x, y0, x, y1]), dot: 10, stripeWidth: 13, cloud: eilCloud, points: eilPoints, contours: eilContours }
]

const svg = d3.select('#chart').append('svg').attr('width', 3541).attr('height', 3770)
const blue = '#0a8bc6'

// overplotted markers inside the dense clouds, as a repeating texture
const tile = 60
const texture = [[6,8],[20,5],[34,9],[49,6],[13,19],[28,21],[43,19],[55,24],[5,31],[20,34],[35,33],[48,37],[12,45],[27,47],[41,48],[54,50],[4,55],[19,58],[34,59]]
const pattern = svg.append('defs').append('pattern').attr('id', 'overplot')
  .attr('width', tile).attr('height', tile).attr('patternUnits', 'userSpaceOnUse')
  .attr('patternTransform', 'rotate(17)')
pattern.append('rect').attr('width', tile).attr('height', tile).attr('fill', '#0f8bc7')
;[-tile, 0, tile].forEach(ox => [-tile, 0, tile].forEach(oy => {
  texture.forEach(([cx, cy]) => pattern.append('circle')
    .attr('cx', cx + ox).attr('cy', cy + oy).attr('r', 7)
    .attr('fill', '#0a86c3').attr('fill-opacity', 0.6)
    .attr('stroke', '#b6dcf0').attr('stroke-opacity', 0.55).attr('stroke-width', 1.1))
}))

function drawPanel(p) {
  const [left, right, top, bottom] = p.box
  const x = d3.scaleLinear().domain(p.xDomain).range([left, right])
  const y = d3.scaleLinear().domain(p.yDomain).range([bottom, top])
  const g = svg.append('g')
  const outline = d3.line().x(d => x(d[0])).y(d => y(d[1])).curve(d3.curveCatmullRomClosed.alpha(0.5))

  if (p.cloud) {
    g.append('path').attr('d', outline(p.cloud)).attr('fill', 'url(#overplot)')
      .attr('stroke', '#3aa0d4').attr('stroke-width', 14).attr('stroke-linecap', 'round').attr('stroke-dasharray', '0 13')
  }

  // lattice rows: a paler band with round dots on it
  ;(p.stripes || []).forEach(s => {
    const d = d3.line()([[x(s[0]), y(s[1])], [x(s[2]), y(s[3])]])
    g.append('path').attr('d', d).attr('stroke', '#3aa3d6').attr('stroke-width', p.stripeWidth - 3).attr('stroke-linecap', 'round')
    g.append('path').attr('d', d).attr('stroke', '#0a84c2').attr('stroke-width', p.stripeWidth)
      .attr('stroke-linecap', 'round').attr('stroke-dasharray', `0 ${p.dot}`).attr('opacity', 0.8)
  })

  g.selectAll('circle').data(p.points).join('circle')
    .attr('cx', d => x(d[0])).attr('cy', d => y(d[1])).attr('r', 7)
    .attr('fill', blue).attr('fill-opacity', 0.55)
    .attr('stroke', '#fff').attr('stroke-opacity', 0.55).attr('stroke-width', 1.2)

  g.append('line').attr('x1', left).attr('x2', right).attr('y1', y(0)).attr('y2', y(0))
    .attr('stroke', '#f22c3a').attr('stroke-width', 7).attr('stroke-dasharray', '28 11')

  p.contours.forEach(c => {
    g.append('path').attr('d', outline(c)).attr('fill', 'none').attr('stroke', '#0a0a0a').attr('stroke-width', 4.5)
  })

  g.append('rect').attr('x', left).attr('y', top).attr('width', right - left).attr('height', bottom - top)
    .attr('fill', 'none').attr('stroke', '#555').attr('stroke-width', 2)

  const xAxis = g.append('g').attr('transform', `translate(0,${bottom})`)
    .call(d3.axisBottom(x).tickValues(p.xTicks).tickFormat(p.xFmt).tickSize(7).tickPadding(11))
  const yAxis = g.append('g').attr('transform', `translate(${left},0)`)
    .call(d3.axisLeft(y).tickValues(p.yTicks).tickFormat(v => minus(p.yFmt(v))).tickSize(7).tickPadding(13))
  ;[xAxis, yAxis].forEach(a => {
    a.select('.domain').remove()
    a.selectAll('line').attr('stroke', '#555').attr('stroke-width', 2)
    a.selectAll('text').style('font-size', '65px').style('font-family', '"Liberation Serif", serif').attr('fill', '#000')
  })

  g.append('text').attr('x', (left + right) / 2).attr('y', bottom + 140).attr('text-anchor', 'middle')
    .style('font-size', '72px').text(p.xLabel)
  g.append('text').attr('transform', `translate(${p.labelX},${(top + bottom) / 2}) rotate(-90)`)
    .attr('text-anchor', 'middle').style('font-size', '72px').text(p.yLabel)
  svg.append('text').attr('x', p.capX).attr('y', p.capY).attr('text-anchor', 'middle')
    .style('font-size', '80px').style('letter-spacing', '2px').text(p.caption)
}

panels.forEach(drawPanel)
</script>
</body>
</html>
